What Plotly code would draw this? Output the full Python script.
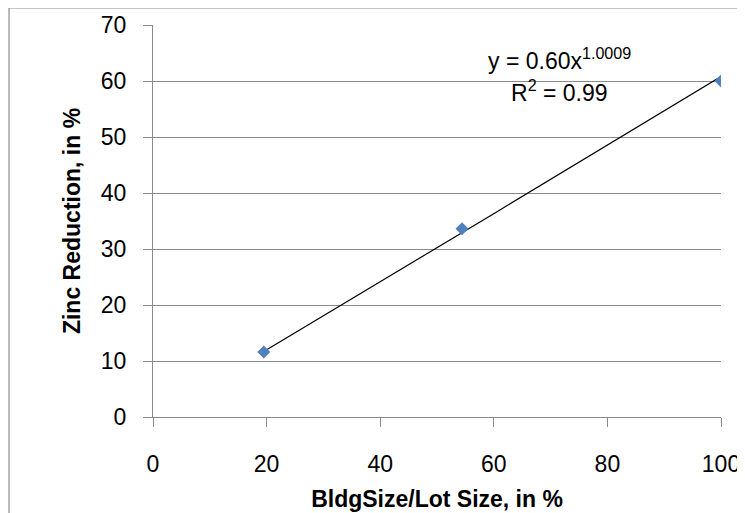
import numpy as np
import plotly.graph_objects as go

# Data
bldg_lot_pct = [19.5, 54.4, 100.0]
zinc_reduction_pct = [11.6, 33.6, 60.0]
x_ticks = [0, 20, 40, 60, 80, 100]
y_ticks = [0, 10, 20, 30, 40, 50, 60, 70]
equation_text = "y = 0.60x<sup>1.0009</sup>"
r2_text = "R<sup>2</sup> = 0.99"

# Power trendline (least squares in log space, as Excel does)
lx = np.log(bldg_lot_pct)
ly = np.log(zinc_reduction_pct)
b, ln_a = np.polyfit(lx, ly, 1)
tx = np.linspace(min(bldg_lot_pct), max(bldg_lot_pct), 50)
ty = np.exp(ln_a) * tx ** b

FONT = "Liberation Sans"
GRID = "#898989"

fig = go.Figure()
fig.add_trace(go.Scatter(x=tx, y=ty, mode="lines",
                         line=dict(color="black", width=1.2),
                         showlegend=False, hoverinfo="skip"))
fig.add_trace(go.Scatter(x=bldg_lot_pct, y=zinc_reduction_pct, mode="markers",
                         marker=dict(symbol="diamond", size=10, color="#4F81BD",
                                     line=dict(width=0)),
                         showlegend=False))

fig.add_annotation(x=71.5, y=63.9, xref="x", yref="y", text=equation_text,
                   showarrow=False, font=dict(family=FONT, size=23, color="black"))
fig.add_annotation(x=71.5, y=58.3, xref="x", yref="y", text=r2_text,
                   showarrow=False, font=dict(family=FONT, size=23, color="black"))

# chart-area border
fig.add_shape(type="rect", xref="paper", yref="paper",
              x0=-0.2535, x1=1.08, y0=-0.30, y1=1.0434,
              line=dict(color="#8c8c8c", width=1.2), fillcolor="rgba(0,0,0,0)")

fig.update_layout(
    width=745, height=513,
    margin=dict(l=145, r=32, t=17, b=104, autoexpand=False),
    paper_bgcolor="white", plot_bgcolor="white",
    font=dict(family=FONT, color="black"),
    xaxis=dict(range=[0, 100], tickvals=x_ticks, showgrid=False, zeroline=False,
               automargin=False,
               showline=True, linecolor=GRID, linewidth=1,
               ticks="outside", ticklen=9, tickcolor=GRID, tickwidth=1,
               ticklabelstandoff=17,
               tickfont=dict(family=FONT, size=23, color="black"),
               title=dict(text="<b>BldgSize/Lot Size, in %</b>",
                          font=dict(family=FONT, size=23, color="black"), standoff=15)),
    yaxis=dict(range=[0, 70], tickvals=y_ticks, showgrid=True, gridcolor=GRID, gridwidth=1,
               zeroline=False, showline=True, linecolor=GRID, linewidth=1,
               automargin=False,
               ticks="outside", ticklen=9, tickcolor=GRID, tickwidth=1,
               ticklabelstandoff=12,
               tickfont=dict(family=FONT, size=23, color="black"),
               title=dict(text="<b>Zinc Reduction, in %</b>",
                          font=dict(family=FONT, size=23, color="black"), standoff=13)),
)

fig.write_html("out.html")
